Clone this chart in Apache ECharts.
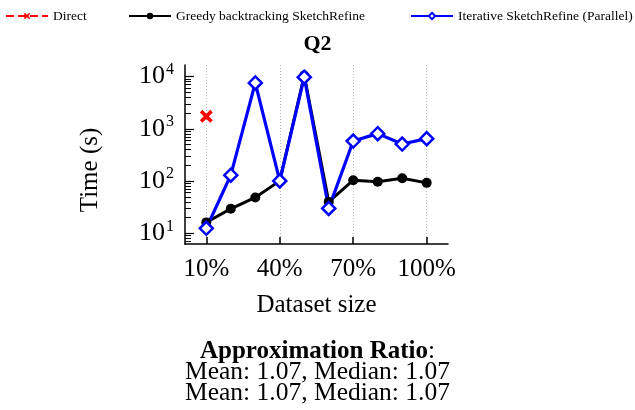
<!DOCTYPE html>
<html><head><meta charset="utf-8">
<script src="https://cdn.jsdelivr.net/npm/echarts@6/dist/echarts.min.js"></script>
<style>html,body{margin:0;padding:0;background:#fff}#c{width:635px;height:410px}</style>
</head><body><div id="c"></div>
<script>
const datasetSizes = [10, 20, 30, 40, 50, 60, 70, 80, 90, 100];
const greedyTimes = [16.2, 29.5, 48.7, 101, 10500, 40, 104, 97, 113, 92.5];
const iterativeTimes = [12.5, 130, 7580, 101, 9750, 30, 585, 810, 513, 650];
const directSizes = [10];
const directTimes = [1740];
const xTickValues = [10, 40, 70, 100];
const yTickValues = [10, 100, 1000, 10000];
const yMinorTickValues = [7, 8, 9, 20, 30, 40, 50, 60, 70, 80, 90, 200, 300, 400, 500, 600, 700, 800, 900, 2000, 3000, 4000, 5000, 6000, 7000, 8000, 9000];
const seriesNames = ['Direct', 'Greedy backtracking SketchRefine', 'Iterative SketchRefine (Parallel)'];
const chartTitle = 'Q2';
const xName = 'Dataset size';
const yName = 'Time (s)';
const ratioHeading = 'Approximation Ratio';
const ratioLines = ['Mean: 1.07, Median: 1.07', 'Mean: 1.07, Median: 1.07'];

const FONT = 'Liberation Serif';
const X_PATH = 'path://M2,0 L5,3 L8,0 L10,2 L7,5 L10,8 L8,10 L5,7 L2,10 L0,8 L3,5 L0,2 Z';
const chart = echarts.init(document.getElementById('c'), null, {renderer: 'canvas'});
const yMin = 6.25, yMax = 16700;

function legendAt(left, name) {
  return {show: true, left: left, top: 9, padding: 0, itemWidth: 42, itemHeight: 8, itemGap: 0,
    data: [name], textStyle: {fontFamily: FONT, fontSize: 13.5, color: '#000'}};
}

chart.setOption({
  animation: false,
  backgroundColor: '#fff',
  title: [
    {text: chartTitle, left: 'center', top: 28, textStyle: {fontFamily: FONT, fontSize: 22, fontWeight: 'bold', color: '#000'}},
    {text: '{b|' + ratioHeading + '}{n|:}\n{n|' + ratioLines.join('}\n{n|') + '}', left: 'center', top: 336,
     textStyle: {fontWeight: 'normal', rich: {
       b: {fontFamily: FONT, fontSize: 25, fontWeight: 'bold', color: '#000', lineHeight: 21},
       n: {fontFamily: FONT, fontSize: 25.5, fontWeight: 'normal', color: '#000', lineHeight: 21}}}}
  ],
  legend: [legendAt(5, seriesNames[0]), legendAt(128, seriesNames[1]), legendAt(410, seriesNames[2])],
  grid: {left: 185, right: 187, top: 65, bottom: 166, containLabel: false},
  xAxis: {
    type: 'value', min: 1.3, max: 108.7,
    name: xName, nameLocation: 'middle', nameGap: 49,
    nameTextStyle: {fontFamily: FONT, fontSize: 25, color: '#000'},
    axisLine: {show: true, lineStyle: {color: '#000', width: 1.5}},
    axisTick: {show: true, inside: true, length: 7, customValues: xTickValues, lineStyle: {color: '#000', width: 1.5}},
    axisLabel: {customValues: xTickValues, margin: 13, fontFamily: FONT, fontSize: 25, color: '#000', formatter: v => v + '%'},
    splitLine: {show: true, lineStyle: {color: '#bbb', type: [1, 2], width: 1}}
  },
  yAxis: [{
    type: 'log', logBase: 10, min: yMin, max: yMax,
    name: yName, nameLocation: 'middle', nameGap: 82,
    nameTextStyle: {fontFamily: FONT, fontSize: 25, color: '#000', padding: [0, 31, 0, 0]},
    axisLine: {show: true, lineStyle: {color: '#000', width: 1.5}},
    axisTick: {show: true, inside: true, length: 9, customValues: yTickValues, lineStyle: {color: '#000', width: 1.2}},
    axisLabel: {customValues: yTickValues, margin: 11, fontFamily: FONT, fontSize: 26, color: '#000',
      formatter: v => '10{s|' + Math.round(Math.log10(v)) + '}',
      rich: {s: {fontFamily: FONT, fontSize: 16, color: '#000', padding: [0, 0, 14, 1]}}},
    splitLine: {show: false}
  }, {
    type: 'log', logBase: 10, min: yMin, max: yMax, position: 'left', offset: 0,
    axisLine: {show: false},
    axisTick: {show: true, inside: true, length: 6, customValues: yMinorTickValues, lineStyle: {color: '#000', width: 1}},
    axisLabel: {show: false},
    splitLine: {show: false}
  }],
  series: [
    {name: seriesNames[0], type: 'line', data: directSizes.map((x, i) => [x, directTimes[i]]),
     symbol: X_PATH, symbolSize: 13, color: '#ff0000',
     lineStyle: {type: 'dashed', width: 1.5, color: '#ff0000'}, itemStyle: {color: '#ff0000'}},
    {name: seriesNames[1], type: 'line', data: datasetSizes.map((x, i) => [x, greedyTimes[i]]),
     symbol: 'circle', symbolSize: 10, color: '#000',
     lineStyle: {width: 3, color: '#000'}, itemStyle: {color: '#000'}},
    {name: seriesNames[2], type: 'line', data: datasetSizes.map((x, i) => [x, iterativeTimes[i]]),
     symbol: 'diamond', symbolSize: 13, color: '#0000ff',
     lineStyle: {width: 3.2, color: '#0000ff'}, itemStyle: {color: '#fff', borderColor: '#0000ff', borderWidth: 2.5}}
  ]
});
</script></body></html>
